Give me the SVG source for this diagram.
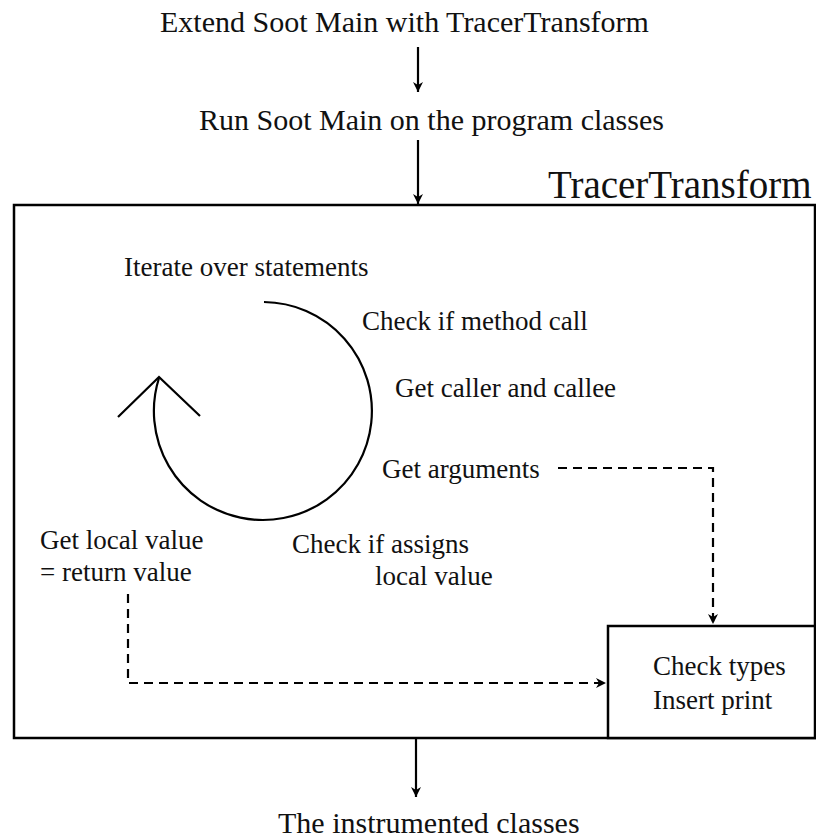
<svg xmlns="http://www.w3.org/2000/svg" width="816" height="839" viewBox="0 0 816 839">
<defs>
<style>
text{font-family:"Liberation Serif","Times New Roman",serif;font-size:27px;fill:#111}
.big{font-size:30px}
.box{fill:#fff;stroke:#000;stroke-width:2.5}
.solid{fill:none;stroke:#000;stroke-width:2.2}
.dash{fill:none;stroke:#000;stroke-width:2.2;stroke-dasharray:9 6}
</style>
<marker id="ah" viewBox="0 0 12 12" refX="11" refY="6" markerWidth="12" markerHeight="12" markerUnits="userSpaceOnUse" orient="auto">
<path d="M1,1 L11,6 L1,11 L4,6 z" fill="#000"/>
</marker>
</defs>
<rect width="816" height="839" fill="#fff"/>
<g id="step1"><text class="big" x="160" y="32">Extend Soot Main with TracerTransform</text></g>
<g id="step2"><text class="big" x="199" y="130">Run Soot Main on the program classes</text></g>
<g id="tracer">
<rect class="box" x="14" y="205" width="801" height="533"/>
<text x="548" y="198" style="font-size:39px">TracerTransform</text>
<text x="124" y="276">Iterate  over statements</text>
<text x="362" y="330">Check  if method  call</text>
<text x="395" y="397">Get caller and callee</text>
<text x="382" y="478">Get arguments</text>
<text x="292" y="553">Check  if assigns</text>
<text x="375" y="585">local value</text>
<text x="40" y="549">Get local value</text>
<text x="40" y="581">= return value</text>
<path class="solid" d="M264,302 A109,109 0 1 1 159,378"/>
<path class="solid" d="M118,417 L159,377 L200,416"/>
</g>
<g id="check"><rect class="box" x="608" y="626" width="207" height="112"/>
<text x="653" y="675">Check  types</text>
<text x="653" y="709">Insert  print</text></g>
<g id="output"><text class="big" x="278" y="833">The instrumented classes</text></g>
<g id="connectors">
<path class="solid" d="M418,47 V92" marker-end="url(#ah)"/>
<path class="solid" d="M418,140 V204" marker-end="url(#ah)"/>
<path class="solid" d="M416,739 V797" marker-end="url(#ah)"/>
<path class="dash" d="M558,468 H713 V624" marker-end="url(#ah)"/>
<path class="dash" d="M128,594 V683 H606" marker-end="url(#ah)"/>
</g>
</svg>
